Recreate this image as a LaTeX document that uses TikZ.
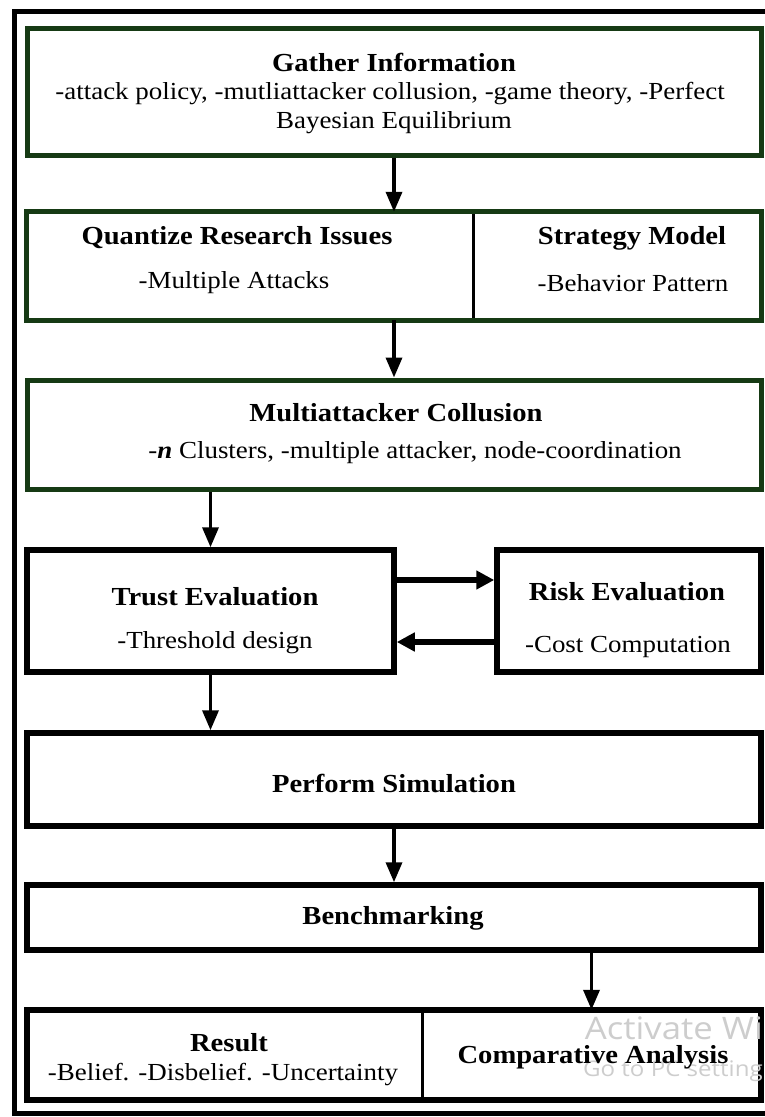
\documentclass[tikz,border=0pt]{standalone}
\usepackage{fontspec}
\setmainfont{Liberation Serif}[FakeStretch=1.1]
\newfontfamily\wmfont{Open Sans}[FakeStretch=1.12]
\usetikzlibrary{arrows.meta}
\definecolor{boxgreen}{RGB}{22,58,20}
\definecolor{wmgray}{RGB}{205,205,205}
\tikzset{
  gbox/.style={draw=boxgreen, line width=5pt, rectangle, inner sep=0pt},
  kbox/.style={draw=black, line width=5.5pt, rectangle, inner sep=0pt},
  plain/.style={rectangle, inner sep=0pt},
  ttl/.style={font=\fontsize{26}{30}\selectfont\bfseries, inner sep=0pt},
  txt/.style={font=\fontsize{24.5}{30}\selectfont, inner sep=0pt, align=center},
  wm/.style={text=wmgray, inner sep=0pt, anchor=east},
  arr/.style={line width=3.5pt, -{Triangle[length=20pt,width=16pt]}},
  harr/.style={line width=6pt, -{Triangle[length=18pt,width=18pt]}},
  divider/.style={line width=3pt, draw=black},
}
\begin{document}
\begin{tikzpicture}[x=1pt,y=-1pt]
\useasboundingbox (0,0) rectangle (765,1117);
\clip (0,0) rectangle (765,1117);
\fill[white] (0,0) rectangle (765,1117);
% outer frame
\draw[line width=5pt] (14,11) rectangle (800,1113);

% boxes
\node[gbox, minimum width=734pt, minimum height=127pt] (gather) at (394,91.5) {};
\node[plain, minimum width=446pt, minimum height=108pt] (qL) at (250,266) {};
\node[plain, minimum width=288pt, minimum height=108pt] (qR) at (617,266) {};
\draw[divider] (qL.north east) -- (qL.south east);
\draw[draw=boxgreen, line width=5pt] (qL.north west) rectangle (qR.south east);
\node[gbox, minimum width=734pt, minimum height=109pt] (multi) at (394,434.5) {};
\node[kbox, minimum width=367pt, minimum height=122pt] (trust) at (210.5,611) {};
\node[kbox, minimum width=264pt, minimum height=122pt] (risk) at (629,611) {};
\node[kbox, minimum width=734pt, minimum height=93pt] (perform) at (394,779.5) {};
\node[kbox, minimum width=734pt, minimum height=65pt] (bench) at (394,917.5) {};
\node[plain, minimum width=395pt, minimum height=90pt] (rL) at (224.5,1055) {};
\node[plain, minimum width=339pt, minimum height=90pt] (rR) at (591.5,1055) {};
\draw[divider] (rL.north east) -- (rL.south east);
\draw[line width=5.5pt] (rL.north west) rectangle (rR.south east);

% watermark (cut off at the picture's edge, as printed)
\node[wm, font=\wmfont\fontsize{31}{34}\selectfont] (wm1) at (763,1028) {Activate Wi};
\node[wm, font=\wmfont\fontsize{21.5}{24}\selectfont] (wm2) at (763,1071) {Go to PC setting};

% texts
\node[ttl] (gT1) at (394,62) {Gather Information};
\node[txt] (gT2) at (390,94) {-attack policy, -mutliattacker collusion, -game theory, -Perfect};
\node[txt] (gT3) at (394,123) {Bayesian Equilibrium};
\node[ttl] (qT1) at (237,238) {Quantize Research Issues};
\node[txt] (qT2) at (234,283) {-Multiple Attacks};
\node[ttl] (sT1) at (632,238) {Strategy Model};
\node[txt] (sT2) at (633,283) {-Behavior Pattern};
\node[ttl] (mT1) at (396,413) {Multiattacker Collusion};
\node[txt] (mT2) at (415,453) {-\textbf{\textit{n}} Clusters, -multiple attacker, node-coordination};
\node[ttl] (tT1) at (215,597) {Trust Evaluation};
\node[txt] (tT2) at (215,643) {-Threshold design};
\node[ttl] (rT1) at (627,592) {Risk Evaluation};
\node[txt] (rT2) at (628,647) {-Cost Computation};
\node[ttl] (pT) at (394,783) {Perform Simulation};
\node[ttl] (bT) at (393,918) {Benchmarking};
\node[ttl] (resT1) at (229,1043) {Result};
\node[txt] (resT2) at (223,1075) {-Belief. -Disbelief. -Uncertainty};
\node[ttl] (cT) at (593,1057) {Comparative Analysis};

% arrows
\draw[arr] (gather.south) -- (gather.south |- qL.north);
\draw[arr] (multi.north |- qL.south) -- (multi.north);
\draw[arr] (trust.north |- multi.south) -- (trust.north);
\draw[harr] ([yshift=31pt]trust.east) -- ([yshift=31pt]trust.east -| risk.west);
\draw[harr] ([yshift=-31pt]risk.west) -- ([yshift=-31pt]risk.west -| trust.east);
\draw[arr] (trust.south) -- (trust.south |- perform.north);
\draw[arr] (perform.south) -- (bench.north);
\draw[arr] (rR.north |- bench.south) -- (rR.north);
\end{tikzpicture}
\end{document}
